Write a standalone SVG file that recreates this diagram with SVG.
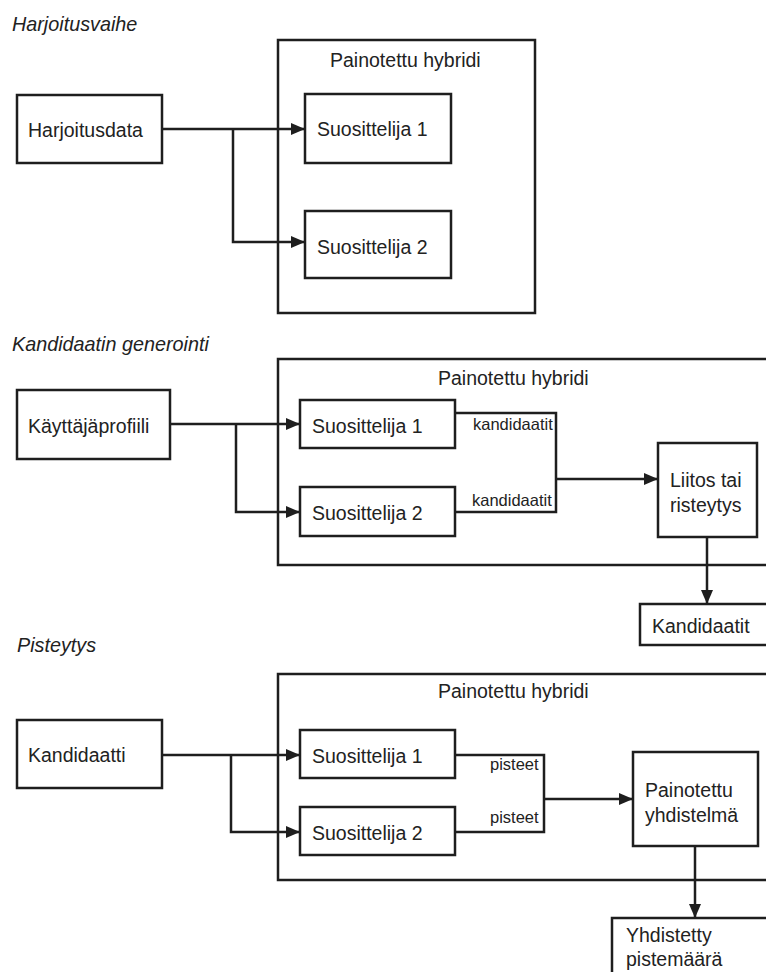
<svg xmlns="http://www.w3.org/2000/svg" width="766" height="972" viewBox="0 0 766 972">
<style>
.box{fill:#fff;stroke:#1e1e1e;stroke-width:2.5}
.t{font-family:"Liberation Sans",Arial,sans-serif;font-size:19.5px;fill:#222}
.s{font-family:"Liberation Sans",Arial,sans-serif;font-size:16.5px;fill:#222}
.h{font-family:"Liberation Sans",Arial,sans-serif;font-size:19.8px;font-style:italic;fill:#222}
.c{fill:none;stroke:#1e1e1e;stroke-width:2.5}
</style>
<defs>
<marker id="arr" markerUnits="userSpaceOnUse" markerWidth="15" markerHeight="13" refX="14" refY="6" orient="auto">
<path d="M0,0 L14,6 L0,12 z" fill="#1e1e1e"/>
</marker>
</defs>
<rect width="766" height="972" fill="#fff"/>

<text class="h" x="12" y="31">Harjoitusvaihe</text>
<text class="h" x="12" y="351">Kandidaatin generointi</text>
<text class="h" x="17" y="652">Pisteytys</text>

<!-- Section 1 -->
<g id="hybrid1"><rect class="box" x="278" y="40" width="257" height="273"/><text class="t" x="330" y="67">Painotettu hybridi</text></g>
<g id="harjoitusdata"><rect class="box" x="17" y="95" width="145" height="68"/><text class="t" x="28" y="137">Harjoitusdata</text></g>
<g id="s1a"><rect class="box" x="305" y="94" width="146" height="69"/><text class="t" x="317" y="136">Suosittelija 1</text></g>
<g id="s2a"><rect class="box" x="305" y="211" width="146" height="67"/><text class="t" x="317" y="254">Suosittelija 2</text></g>

<!-- Section 2 -->
<g id="hybrid2"><rect class="box" x="278" y="359" width="520" height="206"/><text class="t" x="438" y="385">Painotettu hybridi</text></g>
<g id="profiili"><rect class="box" x="17" y="390" width="153" height="69"/><text class="t" x="28" y="433">Käyttäjäprofiili</text></g>
<g id="s1b"><rect class="box" x="300" y="400" width="155" height="48"/><text class="t" x="312" y="433">Suosittelija 1</text></g>
<g id="s2b"><rect class="box" x="300" y="487" width="155" height="49"/><text class="t" x="312" y="520">Suosittelija 2</text></g>
<g id="liitos"><rect class="box" x="658" y="443" width="99" height="94"/><text class="t" x="670" y="487">Liitos tai</text><text class="t" x="670" y="512">risteytys</text></g>
<g id="kandidaatit"><rect class="box" x="640" y="604" width="160" height="41"/><text class="t" x="652" y="633">Kandidaatit</text></g>

<!-- Section 3 -->
<g id="hybrid3"><rect class="box" x="278" y="674" width="520" height="206"/><text class="t" x="438" y="698">Painotettu hybridi</text></g>
<g id="kandidaatti"><rect class="box" x="17" y="720" width="145" height="68"/><text class="t" x="28" y="762">Kandidaatti</text></g>
<g id="s1c"><rect class="box" x="300" y="730" width="155" height="48"/><text class="t" x="312" y="763">Suosittelija 1</text></g>
<g id="s2c"><rect class="box" x="300" y="807" width="155" height="48"/><text class="t" x="312" y="840">Suosittelija 2</text></g>
<g id="yhdistelma"><rect class="box" x="633" y="752" width="125" height="94"/><text class="t" x="645" y="797">Painotettu</text><text class="t" x="645" y="822">yhdistelmä</text></g>
<g id="yhdistetty"><rect class="box" x="612" y="918" width="190" height="80"/><text class="t" x="626" y="942">Yhdistetty</text><text class="t" x="626" y="966">pistemäärä</text></g>

<g id="connectors">
<path class="c" d="M162,129 H305" stroke-width="3" marker-end="url(#arr)"/>
<path class="c" d="M233,129 V242 H305" marker-end="url(#arr)"/>

<path class="c" d="M170,424 H300" stroke-width="3" marker-end="url(#arr)"/>
<path class="c" d="M236,424 V512 H300" marker-end="url(#arr)"/>
<path class="c" d="M455,413 H556 V512 H455"/>
<path class="c" d="M556,479 H658" stroke-width="3" marker-end="url(#arr)"/>
<path class="c" d="M707,537 V604" marker-end="url(#arr)"/>
<text class="s" x="473" y="430">kandidaatit</text>
<text class="s" x="472" y="506">kandidaatit</text>

<path class="c" d="M162,755 H300" stroke-width="3" marker-end="url(#arr)"/>
<path class="c" d="M231,755 V832 H300" marker-end="url(#arr)"/>
<path class="c" d="M455,755 H544 V832 H455"/>
<path class="c" d="M544,799 H633" stroke-width="3" marker-end="url(#arr)"/>
<path class="c" d="M695,846 V918" marker-end="url(#arr)"/>
<text class="s" x="490" y="770">pisteet</text>
<text class="s" x="490" y="823">pisteet</text>
</g>
</svg>
